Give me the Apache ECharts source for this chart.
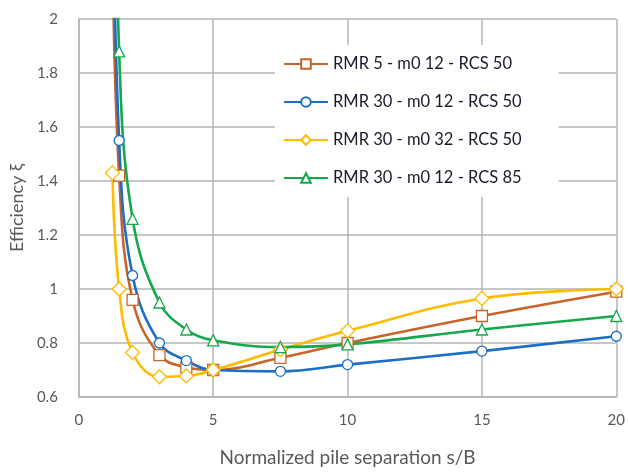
<!DOCTYPE html>
<html>
<head>
<meta charset="utf-8">
<script src="https://cdn.jsdelivr.net/npm/echarts@6/dist/echarts.min.js"></script>
<style>
  html, body { margin: 0; padding: 0; background: #fff; }
  #chart { width: 628px; height: 472px; }
</style>
</head>
<body>
<div id="chart"></div>
<script>
// Normalized pile separation s/B
const separation = [1.25, 1.5, 2, 3, 4, 5, 7.5, 10, 15, 20];

// Group efficiency for each rock-mass case
const rmr5m12rcs50  = [2.3, 1.42, 0.96, 0.755, 0.71, 0.70, 0.745, 0.80, 0.90, 0.99];
const rmr30m12rcs50 = [2.7, 1.55, 1.05, 0.80, 0.735, 0.70, 0.695, 0.72, 0.77, 0.825];
const rmr30m32rcs50 = [1.43, 1.00, 0.765, 0.675, 0.678, 0.70, 0.775, 0.845, 0.965, 1.00];
const rmr30m12rcs85 = [3.4, 1.88, 1.26, 0.95, 0.85, 0.81, 0.785, 0.795, 0.85, 0.90];

const seriesNames = [
  'RMR 5 - m0 12 - RCS 50',
  'RMR 30 - m0 12 - RCS 50',
  'RMR 30 - m0 32 - RCS 50',
  'RMR 30 - m0 12 - RCS 85'
];

const FONT = 'Lato';
const GRID_COLOR = '#b4b4b4';
const TEXT_GRAY = '#595959';

function pairs(ys) {
  return separation.map((x, i) => [x, ys[i]]);
}

function makeSeries(name, ys, color, symbol, size) {
  return {
    name: name,
    type: 'line',
    data: pairs(ys),
    smooth: 0.4,
    symbol: symbol,
    symbolSize: size,
    showAllSymbol: true,
    clip: true,
    lineStyle: { color: color, width: 2.6 },
    itemStyle: { color: '#ffffff', borderColor: color, borderWidth: 1.3 },
    emphasis: { disabled: true }
  };
}

const chart = echarts.init(document.getElementById('chart'), null, { renderer: 'canvas' });

chart.setOption({
  animation: false,
  backgroundColor: '#ffffff',
  grid: { left: 78, right: 8, top: 19, bottom: 71 },
  legend: {
    orient: 'vertical',
    left: 275,
    top: 45,
    padding: [10, 37, 10, 8],
    backgroundColor: '#ffffff',
    itemWidth: 44,
    itemHeight: 12,
    itemGap: 20,
    textStyle: { fontFamily: FONT, fontSize: 16.5, color: '#1a1a2a', lineHeight: 18 },
    data: seriesNames
  },
  xAxis: {
    type: 'value',
    min: 0,
    max: 20,
    interval: 5,
    name: 'Normalized pile separation s/B',
    nameLocation: 'middle',
    nameGap: 51,
    nameTextStyle: { fontFamily: FONT, fontSize: 19, color: TEXT_GRAY },
    axisLine: { show: true, lineStyle: { color: GRID_COLOR, width: 1.5 } },
    axisTick: { show: false },
    axisLabel: { fontFamily: FONT, fontSize: 15, color: TEXT_GRAY, margin: 16 },
    splitLine: { show: true, lineStyle: { color: GRID_COLOR, width: 1.5 } }
  },
  yAxis: {
    type: 'value',
    min: 0.6,
    max: 2,
    interval: 0.2,
    name: 'Efficiency ξ',
    nameLocation: 'middle',
    nameGap: 50,
    nameTextStyle: { fontFamily: FONT, fontSize: 18, color: TEXT_GRAY },
    axisLine: { show: true, lineStyle: { color: GRID_COLOR, width: 1.5 } },
    axisTick: { show: false },
    axisLabel: {
      fontFamily: FONT, fontSize: 15, color: TEXT_GRAY, margin: 21,
      formatter: v => String(Math.round(v * 10) / 10)
    },
    splitLine: { show: true, lineStyle: { color: GRID_COLOR, width: 1.5 } }
  },
  series: [
    makeSeries(seriesNames[0], rmr5m12rcs50, '#c8642a', 'rect', 11),
    makeSeries(seriesNames[1], rmr30m12rcs50, '#1c6fc4', 'circle', 10),
    makeSeries(seriesNames[2], rmr30m32rcs50, '#ffbb00', 'diamond', 14),
    makeSeries(seriesNames[3], rmr30m12rcs85, '#14a84a', 'triangle', 11)
  ]
});
</script>
</body>
</html>
